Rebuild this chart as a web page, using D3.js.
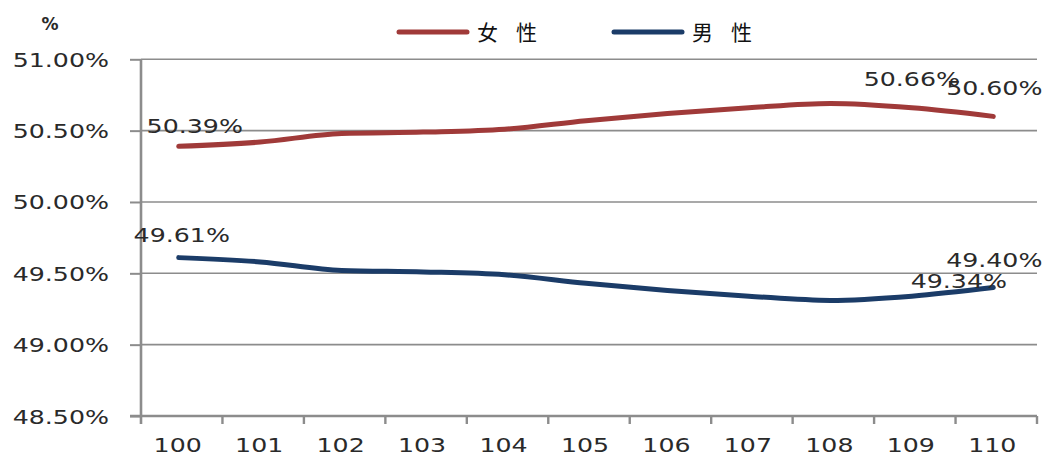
<!DOCTYPE html>
<html><head><meta charset="utf-8">
<script src="https://cdn.jsdelivr.net/npm/d3@7"></script>
<style>html,body{margin:0;padding:0;background:#fff;}svg{display:block;}</style>
</head><body>
<svg id="c" width="1051" height="457"></svg>
<script>
const categories = ["100","101","102","103","104","105","106","107","108","109","110"];
const female = [50.39,50.42,50.48,50.49,50.51,50.57,50.62,50.66,50.69,50.66,50.60];
const male   = [49.61,49.58,49.52,49.51,49.49,49.43,49.38,49.34,49.31,49.34,49.40];
const yTicks = [48.5,49.0,49.5,50.0,50.5,51.0];
const seriesNames = ["女性","男性"];
// labelled points: [series index, category index]
const labelPoints = [[0,0],[0,9],[0,10],[1,0],[1,9],[1,10]];
// label offsets (dx, dy) relative to point
const labelOffsets = [[16,-13],[0,-22],[1,-21],[3,-16],[47,-8],[1,-21]];

const colors = ["#A03A39","#1B3C68"];
const svg = d3.select("#c");
const SX = 1.33;
const textColor = "#2a2a2a";
const gridColor = "#8c8c8c";

const x = d3.scaleBand().domain(categories).range([141,1037]).padding(0);
const y = d3.scaleLinear().domain([48.5,51.0]).range([416,59.3]);

// gridlines
svg.append("g").selectAll("line").data(yTicks.filter(t=>t>48.5)).join("line")
  .attr("x1",141).attr("x2",1037).attr("y1",d=>y(d)).attr("y2",d=>y(d))
  .attr("stroke",gridColor).attr("stroke-width",1.6);

// y axis
const yAxis = svg.append("g").attr("transform","translate(141,0)")
  .call(d3.axisLeft(y).tickValues(yTicks).tickSize(11).tickFormat(d=>d.toFixed(2)+"%"));
yAxis.select(".domain").remove();
yAxis.selectAll(".tick line").attr("stroke",gridColor).attr("stroke-width",2);
yAxis.selectAll(".tick text").remove();
yAxis.selectAll(".tick").append("text")
  .attr("transform",`translate(-32,7) scale(${SX},1)`)
  .attr("text-anchor","end").attr("font-family","DejaVu Sans").attr("font-size",19)
  .attr("fill",textColor).text(d=>d.toFixed(2)+"%");
svg.append("line").attr("x1",141).attr("x2",141).attr("y1",y(51)).attr("y2",424)
  .attr("stroke",gridColor).attr("stroke-width",2.6);

// x axis
const xAxisG = svg.append("g").attr("transform","translate(0,416)");
xAxisG.append("line").attr("x1",130).attr("x2",1037).attr("y1",0).attr("y2",0)
  .attr("stroke",gridColor).attr("stroke-width",2.6);
const bounds = categories.map(c=>x(c)).concat([x(categories[categories.length-1])+x.bandwidth()]);
xAxisG.selectAll("line.tk").data(bounds.slice(1)).join("line").attr("class","tk")
  .attr("x1",d=>d).attr("x2",d=>d).attr("y1",0).attr("y2",8)
  .attr("stroke",gridColor).attr("stroke-width",2.4);
xAxisG.selectAll("text").data(categories).join("text")
  .attr("transform",d=>`translate(${x(d)+x.bandwidth()/2-4},36) scale(${SX},1)`)
  .attr("text-anchor","middle").attr("font-family","DejaVu Sans").attr("font-size",19)
  .attr("fill",textColor).text(d=>d);

// lines
const cx = i => x(categories[i]) + x.bandwidth()/2 - 3;
const line = d3.line().x((d,i)=>cx(i)).y(d=>y(d)).curve(d3.curveMonotoneX);
[female,male].forEach((s,k)=>{
  svg.append("path").datum(s).attr("d",line).attr("fill","none")
    .attr("stroke",colors[k]).attr("stroke-width",5).attr("stroke-linecap","round").attr("stroke-linejoin","round");
});

// data labels
const seriesData=[female,male];
labelPoints.forEach((p,j)=>{
  const v = seriesData[p[0]][p[1]];
  const o = labelOffsets[j];
  svg.append("text")
    .attr("transform",`translate(${cx(p[1])+o[0]},${y(v)+o[1]}) scale(${SX},1)`)
    .attr("text-anchor","middle").attr("font-family","DejaVu Sans").attr("font-size",19)
    .attr("fill",textColor).text(v.toFixed(2)+"%");
});

// unit title
svg.append("text").attr("x",50).attr("y",30).attr("text-anchor","middle")
  .attr("font-family","DejaVu Sans").attr("font-weight","bold").attr("font-size",17)
  .attr("fill",textColor).text("%");

// legend
const legendX = [399, 614];
seriesNames.forEach((n,k)=>{
  svg.append("line").attr("x1",legendX[k]).attr("x2",legendX[k]+68).attr("y1",32).attr("y2",32)
    .attr("stroke",colors[k]).attr("stroke-width",5).attr("stroke-linecap","round");
  svg.append("text").attr("x",legendX[k]+78).attr("y",40)
    .attr("font-family","Noto Sans CJK TC").attr("font-size",21).attr("letter-spacing",18)
    .attr("fill","#111").text(n);
});
</script>
</body></html>
